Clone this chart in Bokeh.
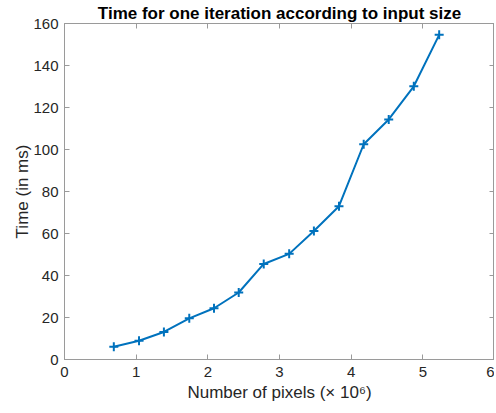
from bokeh.plotting import figure
from bokeh.models import Range1d, LinearAxis, FixedTicker
from bokeh.embed import file_html
from bokeh.resources import INLINE

pixels_millions = [0.688, 1.04, 1.387, 1.741, 2.086, 2.431, 2.78, 3.135, 3.48, 3.83, 4.175, 4.524, 4.874, 5.228]
time_ms = [6.1, 8.9, 13.1, 19.6, 24.4, 31.9, 45.5, 50.3, 61.2, 73.0, 102.5, 114.3, 130.1, 154.6]
x_ticks = [0, 1, 2, 3, 4, 5, 6]
y_ticks = [0, 20, 40, 60, 80, 100, 120, 140, 160]
title_text = "Time for one iteration according to input size"

FONT = "Liberation Sans"
TXT = "#262626"
BOX = "#9a9a9a"
BLUE = "#0072BD"

p = figure(width=494, height=404, output_backend="svg", toolbar_location=None,
           x_range=Range1d(0, 6), y_range=Range1d(0, 160),
           min_border_left=64, min_border_right=0, min_border_bottom=0, min_border_top=0,
           title=title_text)
p.title.align = "center"
p.title.text_font = FONT
p.title.text_font_size = "17px"
p.title.text_font_style = "bold"
p.title.text_color = "#000000"
p.title.standoff = 2
p.title.offset = 0

p.grid.visible = False
p.outline_line_color = BOX
p.outline_line_width = 1

for ax in (p.xaxis[0], p.yaxis[0]):
    ax.axis_line_color = BOX
    ax.major_tick_line_color = BOX
    ax.major_tick_in = 5
    ax.major_tick_out = 0
    ax.minor_tick_line_color = None
    ax.major_label_text_font = FONT
    ax.major_label_text_font_size = "15px"
    ax.major_label_text_color = TXT
    ax.axis_label_text_font = FONT
    ax.axis_label_text_font_size = "17px"
    ax.axis_label_text_color = TXT
    ax.axis_label_text_font_style = "normal"

p.xaxis[0].ticker = FixedTicker(ticks=x_ticks)
p.yaxis[0].ticker = FixedTicker(ticks=y_ticks)
p.xaxis[0].axis_label = "Number of pixels (\u00d7 10\u2076)"
p.yaxis[0].axis_label = "Time (in ms)"
p.xaxis[0].major_label_standoff = 7
p.yaxis[0].major_label_standoff = 6
p.xaxis[0].axis_label_standoff = 3
p.yaxis[0].axis_label_standoff = -2

top = LinearAxis(ticker=FixedTicker(ticks=x_ticks), major_label_text_font_size="0px",
                 axis_line_color=None, major_tick_line_color=BOX, major_tick_in=5,
                 major_tick_out=0, minor_tick_line_color=None, major_label_standoff=0)
right = LinearAxis(ticker=FixedTicker(ticks=y_ticks), major_label_text_font_size="0px",
                   axis_line_color=None, major_tick_line_color=BOX, major_tick_in=5,
                   major_tick_out=0, minor_tick_line_color=None, major_label_standoff=0)
top.major_label_text_color = None
right.major_label_text_color = None
p.add_layout(top, "above")
p.add_layout(right, "right")

p.line(pixels_millions, time_ms, line_color=BLUE, line_width=2)
p.scatter(pixels_millions, time_ms, marker="cross", size=9, line_color=BLUE, line_width=2)

open("out.html", "w").write(file_html(p, INLINE))
